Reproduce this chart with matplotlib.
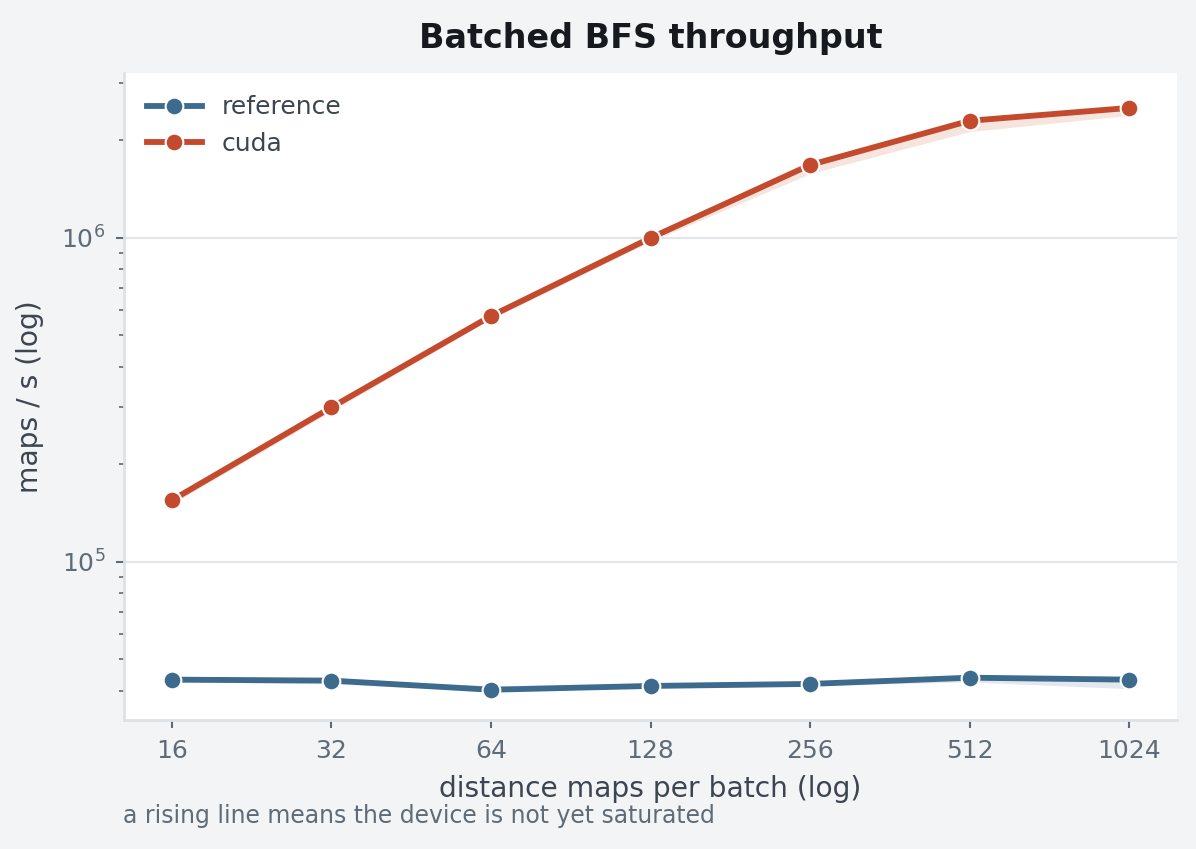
import numpy as np
import matplotlib.pyplot as plt
from matplotlib.ticker import FixedLocator, FixedFormatter, NullLocator

batch = [16, 32, 64, 128, 256, 512, 1024]

ref_mean = [43300, 43000, 40300, 41400, 42000, 43900, 43300]
ref_lo = [42600, 42000, 40000, 41000, 41500, 42600, 40600]
ref_hi = [43800, 43400, 41500, 42000, 42500, 44200, 43600]

cuda_mean = [155000, 300000, 574000, 1000000, 1680000, 2300000, 2520000]
cuda_lo = [151000, 292000, 562000, 975000, 1580000, 2130000, 2390000]
cuda_hi = [157000, 304000, 580000, 1010000, 1700000, 2330000, 2550000]

BG = '#f2f4f6'
SPINE = '#dde2e6'
TXT = '#3d4650'
TICK = '#5f6b76'
C_REF = '#3d6b8e'
C_CUDA = '#c44a2e'

plt.rcParams['font.family'] = ['DejaVu Sans']

fig = plt.figure(figsize=(1196 / 150, 849 / 150), dpi=150, facecolor=BG)
ax = fig.add_axes([124 / 1196, 1 - 720 / 849, (1177 - 124) / 1196, (720 - 73) / 849])
ax.set_facecolor('white')

for name, mean, lo, hi, c in [('reference', ref_mean, ref_lo, ref_hi, C_REF),
                              ('cuda', cuda_mean, cuda_lo, cuda_hi, C_CUDA)]:
    ax.fill_between(batch, lo, hi, color=c, alpha=0.15, linewidth=0, zorder=2)
    ax.plot(batch, mean, color=c, lw=2.8, marker='o', ms=8.5, mec='white',
            mew=1.0, label=name, zorder=3)

ax.set_xscale('log', base=2)
ax.set_yscale('log')
ax.set_xlim(16 * 2 ** -0.3, 1024 * 2 ** 0.3)
ax.set_ylim(32500, 3.23e6)

ax.xaxis.set_major_locator(FixedLocator(batch))
ax.xaxis.set_major_formatter(FixedFormatter([str(b) for b in batch]))
ax.xaxis.set_minor_locator(NullLocator())

ax.grid(True, axis='y', which='major', color='#e1e5e9', lw=1.0, zorder=0)
ax.grid(False, axis='x')

for s in ['top', 'right']:
    ax.spines[s].set_visible(False)
for s in ['left', 'bottom']:
    ax.spines[s].set_color(SPINE)
    ax.spines[s].set_linewidth(1.3)

ax.tick_params(axis='both', which='major', colors=TICK, labelcolor=TICK,
               labelsize=12, length=4, width=1.0, pad=5)
ax.tick_params(axis='y', which='minor', colors=TICK, length=2.5, width=0.8)

ax.set_xlabel('distance maps per batch (log)', fontsize=13.5, color=TXT, labelpad=6)
ax.set_ylabel('maps / s (log)', fontsize=13.5, color=TXT, labelpad=8)
ax.set_title('Batched BFS throughput', fontsize=16, fontweight='bold',
             color='#16191d', pad=12)

leg = ax.legend(loc='upper left', frameon=False, fontsize=12, labelcolor=TXT,
                handlelength=2.2, borderaxespad=0.5)

fig.text(123 / 1196, 1 - 816 / 849, 'a rising line means the device is not yet saturated',
         fontsize=11.3, color=TICK, va='center', ha='left')

fig.savefig('out.png', dpi=150, facecolor=BG)
